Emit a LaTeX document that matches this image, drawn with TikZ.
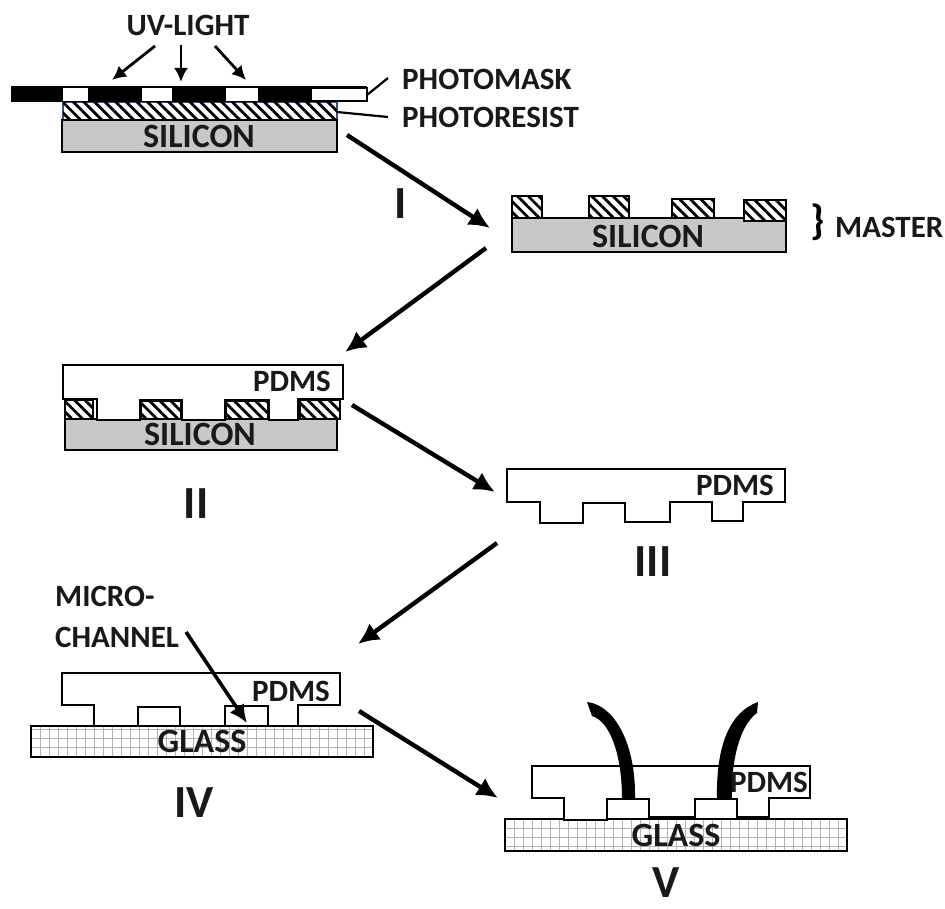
\documentclass[tikz,border=0pt]{standalone}
\usepackage{fontspec}
\setmainfont{Carlito}
\usepackage{tikz}
\definecolor{silicongray}{RGB}{200, 200, 200}
\definecolor{resistblue}{RGB}{47, 82, 143}
\usetikzlibrary{arrows.meta, calc, positioning, patterns.meta}
\tikzset{
	lbl/.style={font=\fontsize{31}{33}\selectfont\bfseries, inner sep=0pt, text=black!90},
	bodylbl/.style={font=\fontsize{34}{36}\selectfont\bfseries, inner sep=0pt, text=black!90},
	smalllbl/.style={font=\fontsize{31}{33}\selectfont\bfseries, inner sep=0pt, text=black!90},
	numeral/.style={font=\fontsize{46}{48}\selectfont\bfseries, inner sep=0pt, text=black!90},
	bigarrow/.style={line width=4.4pt, -{Latex[length=21pt,width=20pt]}},
	uvarrow/.style={line width=2.8pt, -{Latex[length=14pt,width=14pt]}},
	leader/.style={line width=2.2pt},
	edge/.style={line width=2.8pt, line join=miter},
	silicon/.style={edge, fill=silicongray},
	glass/.style={edge, fill=white},
	hatching/.style={postaction={pattern={Lines[angle=-45,distance=7.5pt,line width=2.8pt]}, pattern color=black}},
	hatchbox/.style={edge, fill=white, hatching},
	tube/.style={fill=black}
}
\begin{document}
\begin{tikzpicture}[x=1pt,y=-1pt]
	\useasboundingbox (0,0) rectangle (945,909);
	
	% step I
	\draw[line width=1.6pt, draw=resistblue, fill=white, hatching] (63,102) rectangle (337,120);
	\draw[silicon] (62,120) rectangle (337,152);
	\fill[black] (11,86) rectangle (367,102);
	\draw[line width=1.4pt, draw=black, fill=white] (311,88) rectangle (367,101);
	\foreach \xa/\xb in {63/88, 142/172, 226/258}
		\fill[white] (\xa,88) rectangle (\xb,101);
	\node[bodylbl] (siliconA) at (199,136) {SILICON};
	\node[lbl] (uvlight) at (188,25) {UV-LIGHT};
	\node[lbl, anchor=west] (photomask) at (402,79) {PHOTOMASK};
	\node[lbl, anchor=west] (photoresist) at (402,117) {PHOTORESIST};
	\coordinate (uvA) at (155,46);
	\coordinate (uvAend) at (112,80);
	\coordinate (uvB) at (181,45);
	\coordinate (uvBend) at (181,82);
	\coordinate (uvC) at (215,46);
	\coordinate (uvCend) at (246,80);
	\draw[uvarrow] (uvA) -- (uvAend);
	\draw[uvarrow] (uvB) -- (uvBend);
	\draw[uvarrow] (uvC) -- (uvCend);
	\coordinate (maskedge) at (367,95);
	\coordinate (maskfree) at (388,78);
	\coordinate (resistedge) at (337,112);
	\coordinate (resistfree) at (388,117);
	\draw[leader] (maskfree) -- (maskedge);
	\draw[leader] (resistedge) -- (resistfree);
	
	% master
	\draw[silicon] (512,218) rectangle (786,252);
	\foreach \xa/\xb/\ya/\yb in {512/542/196/218, 589/629/196/218, 672/714/199/218, 744/786/200/221}
		\draw[hatchbox] (\xa,\ya) rectangle (\xb,\yb);
	\node[bodylbl] (siliconB) at (648,236) {SILICON};
	\node[font=\fontsize{42}{44}\selectfont\bfseries, inner sep=0pt] (brace) at (818,222) {\}};
	\node[lbl, anchor=west] (master) at (835,227) {MASTER};
	
	% step II
	\draw[silicon] (65,419) rectangle (337,450);
	\draw[edge, fill=white] (63,399) -- (63,365) -- (343,365) -- (343,399) -- (298,399) -- (298,420) -- (269,420) -- (269,400) -- (225,400) -- (225,420) -- (182,420) -- (182,400) -- (140,400) -- (140,420) -- (97,420) -- (97,399) -- cycle;
	\foreach \xa/\xb in {65/93, 300/340}
		\draw[hatchbox, line width=1.4pt] (\xa,400) rectangle (\xb,419);
	\foreach \xa/\xb in {141/181, 226/268}
		\draw[hatchbox, line width=1.4pt] (\xa,401) rectangle (\xb,419);
	\draw[edge] (63,399) -- (97,399) -- (97,420);
	\draw[edge] (298,420) -- (298,399) -- (343,399);
	\node[bodylbl] (siliconC) at (200,434) {SILICON};
	\node[smalllbl] (pdmsB) at (292,381) {PDMS};
	\node[numeral] (labelII) at (196,504) {II};
	\node[numeral] (labelI) at (401,204) {I};
	
	% step III
	\draw[edge] (507,502) -- (507,469) -- (785,469) -- (785,502) -- (743,502) -- (743,521) -- (712,521) -- (712,502) -- (670,502) -- (670,522) -- (625,522) -- (625,503) -- (583,503) -- (583,523) -- (540,523) -- (540,502) -- cycle;
	\node[smalllbl] (pdmsC) at (735,485) {PDMS};
	\node[numeral] (labelIII) at (653,562) {III};
	
	% step IV
	\draw[glass] (31,726) rectangle (373,757);
	\draw[black!30, line width=0.5pt, step=9pt, shift={(31pt,0pt)}] (1,727) grid (341,756);
	\draw[edge] (31,726) rectangle (373,757);
	\draw[edge, fill=white] (62,705) -- (62,673) -- (340,673) -- (340,705) -- (298,705) -- (298,726) -- (268,726) -- (268,706) -- (225,706) -- (225,726) -- (180,726) -- (180,707) -- (138,707) -- (138,726) -- (94,726) -- (94,705) -- cycle;
	\node[bodylbl] (glassD) at (202,741) {GLASS};
	\node[smalllbl] (pdmsD) at (291,691) {PDMS};
	\node[lbl, anchor=west] (micro) at (55,596) {MICRO-};
	\node[lbl, anchor=west] (channel) at (55,637) {CHANNEL};
	\coordinate (channeltip) at (247,723);
	\coordinate (channelfree) at (186,632);
	\draw[line width=3.6pt, -{Latex[length=18pt,width=17pt]}] (channelfree) -- (channeltip);
	\node[numeral] (labelIV) at (194,803) {IV};
	
	% step V
	\draw[glass] (505,819) rectangle (847,851);
	\draw[black!30, line width=0.5pt, step=9pt, shift={(505pt,0pt)}] (1,820) grid (341,850);
	\draw[edge] (505,819) rectangle (847,851);
	\draw[edge, fill=white] (532,798) -- (532,766) -- (810,766) -- (810,798) -- (769,798) -- (769,817) -- (737,817) -- (737,799) -- (695,799) -- (695,817) -- (649,817) -- (649,799) -- (607,799) -- (607,820) -- (564,820) -- (564,798) -- cycle;
	\fill[tube] (587,702) .. controls (615,705) and (636,745) .. (635,798) -- (622,798) .. controls (622,760) and (612,722) .. (592,716) -- cycle;
	\fill[tube] (758,702) .. controls (730,712) and (716,745) .. (717,798) -- (732,798) .. controls (731,760) and (740,725) .. (757,713) -- cycle;
	\node[bodylbl] (glassE) at (676,835) {GLASS};
	\node[smalllbl] (pdmsE) at (769,782) {PDMS};
	\node[numeral] (labelV) at (666,883) {V};
	
	% process arrows
	\coordinate (stepIa) at (347,135);
	\coordinate (stepIb) at (490,228);
	\coordinate (stepIIa) at (486,248);
	\coordinate (stepIIb) at (345,352);
	\coordinate (stepIIIa) at (352,405);
	\coordinate (stepIIIb) at (495,492);
	\coordinate (stepIVa) at (497,543);
	\coordinate (stepIVb) at (358,644);
	\coordinate (stepVa) at (359,711);
	\coordinate (stepVb) at (498,798);
	\draw[bigarrow] (stepIa) -- (stepIb);
	\draw[bigarrow] (stepIIa) -- (stepIIb);
	\draw[bigarrow] (stepIIIa) -- (stepIIIb);
	\draw[bigarrow] (stepIVa) -- (stepIVb);
	\draw[bigarrow] (stepVa) -- (stepVb);
\end{tikzpicture}
\end{document}
